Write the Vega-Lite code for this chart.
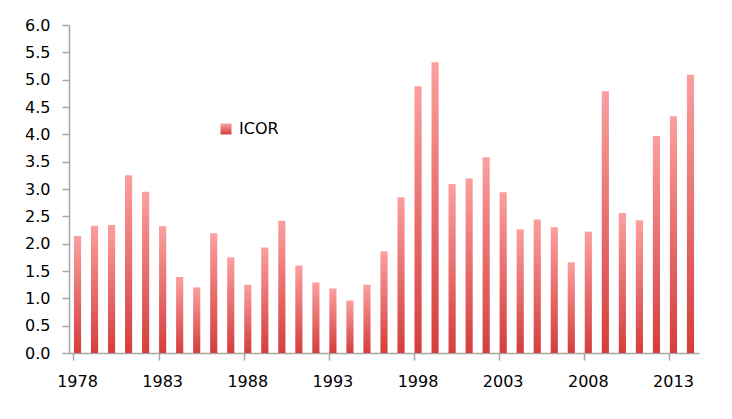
{
  "$schema": "https://vega.github.io/schema/vega-lite/v6.json",
  "autosize": {"type": "none"},
  "padding": {"left": 69, "top": 25, "right": 33, "bottom": 41},
  "width": 630,
  "height": 328,
  "background": "white",
  "config": {
    "view": {"stroke": null},
    "font": "DejaVu Sans",
    "axis": {
      "domainColor": "#a6a6a6",
      "tickColor": "#a6a6a6",
      "domainWidth": 1.5,
      "tickWidth": 1.5,
      "labelColor": "black",
      "labelFontSize": 16,
      "grid": false,
      "title": null
    }
  },
  "data": {
    "values": [
      {"year": "1978", "icor": 2.14},
      {"year": "1979", "icor": 2.33},
      {"year": "1980", "icor": 2.34},
      {"year": "1981", "icor": 3.25},
      {"year": "1982", "icor": 2.95},
      {"year": "1983", "icor": 2.32},
      {"year": "1984", "icor": 1.39},
      {"year": "1985", "icor": 1.2},
      {"year": "1986", "icor": 2.19},
      {"year": "1987", "icor": 1.75},
      {"year": "1988", "icor": 1.25},
      {"year": "1989", "icor": 1.93},
      {"year": "1990", "icor": 2.42},
      {"year": "1991", "icor": 1.6},
      {"year": "1992", "icor": 1.29},
      {"year": "1993", "icor": 1.18},
      {"year": "1994", "icor": 0.96},
      {"year": "1995", "icor": 1.25},
      {"year": "1996", "icor": 1.86},
      {"year": "1997", "icor": 2.85},
      {"year": "1998", "icor": 4.88},
      {"year": "1999", "icor": 5.32},
      {"year": "2000", "icor": 3.09},
      {"year": "2001", "icor": 3.19},
      {"year": "2002", "icor": 3.58},
      {"year": "2003", "icor": 2.94},
      {"year": "2004", "icor": 2.26},
      {"year": "2005", "icor": 2.44},
      {"year": "2006", "icor": 2.3},
      {"year": "2007", "icor": 1.66},
      {"year": "2008", "icor": 2.22},
      {"year": "2009", "icor": 4.79},
      {"year": "2010", "icor": 2.56},
      {"year": "2011", "icor": 2.43},
      {"year": "2012", "icor": 3.97},
      {"year": "2013", "icor": 4.33},
      {"year": "2014", "icor": 5.09}
    ]
  },
  "mark": {
    "type": "bar",
    "color": {
      "gradient": "linear",
      "x1": 0, "y1": 0, "x2": 0, "y2": 1,
      "stops": [
        {"offset": 0, "color": "#fc9f9f"},
        {"offset": 1, "color": "#d43e3d"}
      ]
    }
  },
  "encoding": {
    "x": {
      "field": "year",
      "type": "ordinal",
      "scale": {"paddingInner": 0.58, "paddingOuter": 0.29},
      "axis": {
        "values": ["1978", "1983", "1988", "1993", "1998", "2003", "2008", "2013"],
        "labelAngle": 0,
        "bandPosition": 0,
        "tickSize": 7,
        "labelPadding": 13
      }
    },
    "y": {
      "field": "icor",
      "type": "quantitative",
      "scale": {"domain": [0, 6], "nice": false},
      "axis": {
        "values": [0, 0.5, 1, 1.5, 2, 2.5, 3, 3.5, 4, 4.5, 5, 5.5, 6],
        "format": ".1f",
        "tickSize": 7,
        "labelPadding": 12
      }
    },
    "opacity": {
      "datum": "ICOR",
      "type": "nominal",
      "scale": {"range": [1]},
      "legend": {
        "title": null,
        "orient": "none",
        "legendX": 149,
        "legendY": 96,
        "padding": 0,
        "symbolType": "square",
        "symbolSize": 121,
        "symbolStrokeWidth": 0,
        "labelFontSize": 16,
        "labelColor": "black",
        "labelOffset": 5,
        "encode": {
          "symbols": {
            "update": {
              "fill": {"value": {
                "gradient": "linear",
                "x1": 0, "y1": 0, "x2": 0, "y2": 1,
                "stops": [
                  {"offset": 0, "color": "#fc9f9f"},
                  {"offset": 1, "color": "#d43e3d"}
                ]
              }},
              "stroke": {"value": "transparent"},
              "opacity": {"value": 1}
            }
          }
        }
      }
    }
  }
}
